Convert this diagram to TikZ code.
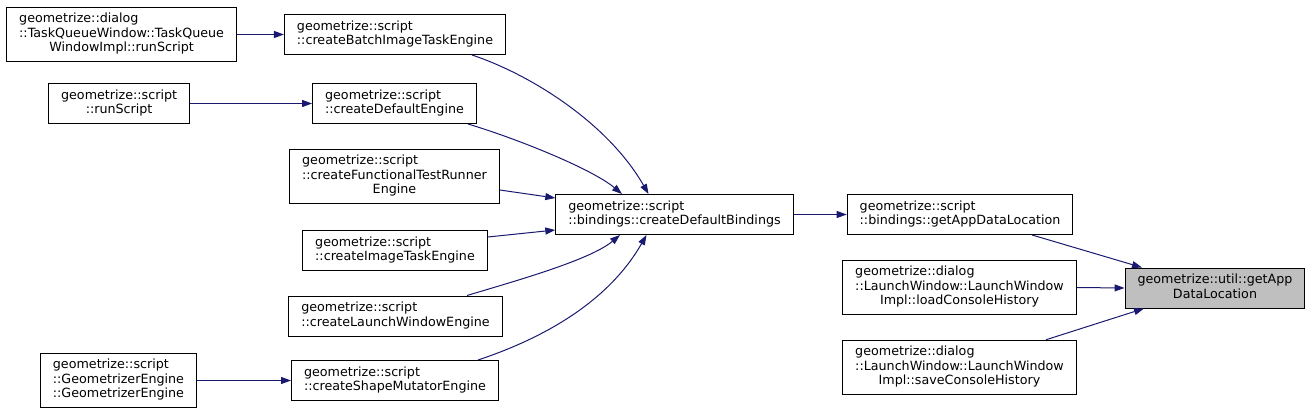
\documentclass[tikz,border=0pt]{standalone}
\usepackage{fontspec}
\setmainfont{DejaVu Sans}
\usetikzlibrary{arrows.meta, positioning}
\definecolor{edgeblue}{RGB}{25,25,112}
\definecolor{focusgray}{RGB}{191,191,191}
\newcommand{\calllbl}[2]{\begin{tabular}{@{}l@{}}#1\\\multicolumn{1}{@{}c@{}}{#2}\end{tabular}}

\begin{document}
\begin{tikzpicture}[
    x=1pt, y=-1pt,
    node distance=47pt,
    every node/.style={font=\fontsize{12.7}{14.5}\selectfont},
    func/.style={draw, line width=1pt, inner xsep=12.5pt, inner ysep=5.5pt},
    focus/.style={func, fill=focusgray},
    arrow/.style={-{Triangle[length=10pt, width=7pt]}, edgeblue, line width=1pt}
]
\useasboundingbox (0,0) rectangle (1307,415);

% Colonne des moteurs
\node[func] (batch) at (395,34.5) {\calllbl{geometrize::script}{::createBatchImageTaskEngine}};
\node[func] (default) at (394.5,103.5) {\calllbl{geometrize::script}{::createDefaultEngine}};
\node[func] (functest) at (394.5,176.5) {\calllbl{geometrize::script\\::createFunctionalTestRunner}{Engine}};
\node[func] (imagetask) at (395,250.5) {\calllbl{geometrize::script}{::createImageTaskEngine}};
\node[func] (launch) at (395.5,316) {\calllbl{geometrize::script}{::createLaunchWindowEngine}};
\node[func] (shapemut) at (395,380.5) {\calllbl{geometrize::script}{::createShapeMutatorEngine}};

% Appelants de gauche
\node[func, left=of batch] (taskq) {\calllbl{geometrize::dialog\\::TaskQueueWindow::TaskQueue}{WindowImpl::runScript}};
\node[func, left=122pt of default] (runscript) {\calllbl{geometrize::script}{::runScript}};
\node[func, left=94pt of shapemut] (geomengine) {\calllbl{geometrize::script\\::GeometrizerEngine}{::GeometrizerEngine}};

% Liaisons et fonction cible
\node[func] (bindings) at (674.5,214.5) {\calllbl{geometrize::script}{::bindings::createDefaultBindings}};
\node[func, right=53pt of bindings] (getappb) {\calllbl{geometrize::script}{::bindings::getAppDataLocation}};
\node[func] (loadhist) at (959.5,287.5) {\calllbl{geometrize::dialog\\::LaunchWindow::LaunchWindow}{Impl::loadConsoleHistory}};
\node[func] (savehist) at (959.5,367.5) {\calllbl{geometrize::dialog\\::LaunchWindow::LaunchWindow}{Impl::saveConsoleHistory}};
\node[focus] (util) at (1215,288) {\calllbl{geometrize::util::getApp}{DataLocation}};

\draw[arrow] (taskq.east) -- (batch.west);
\draw[arrow] (runscript.east) -- (default.west);
\draw[arrow] (geomengine.east) -- (shapemut.west);

\draw[arrow] ([xshift=77pt]batch.south) .. controls +(60,20) and +(-40,-70) .. ([xshift=-26pt]bindings.north);
\draw[arrow] ([xshift=73.5pt]default.south) .. controls +(50,15) and +(-30,-25) .. ([xshift=-52.5pt]bindings.north);
\draw[arrow] ([yshift=-13.5pt]functest.east) -- ([yshift=16.5pt]bindings.west);
\draw[arrow] ([yshift=13.5pt]imagetask.east) -- ([yshift=-15.5pt]bindings.west);
\draw[arrow] ([xshift=71.5pt]launch.north) .. controls +(50,-15) and +(-30,25) .. ([xshift=-54.5pt]bindings.south);
\draw[arrow] ([xshift=83pt]shapemut.north) .. controls +(60,-20) and +(-40,70) .. ([xshift=-28pt]bindings.south);

\draw[arrow] (bindings.east) -- (getappb.west);
\draw[arrow] ([xshift=72pt]getappb.south) -- ([xshift=-73pt]util.north);
\draw[arrow] (loadhist.east) -- (util.west);
\draw[arrow] ([xshift=86.5pt]savehist.north) -- ([xshift=-71pt]util.south);

\end{tikzpicture}
\end{document}
